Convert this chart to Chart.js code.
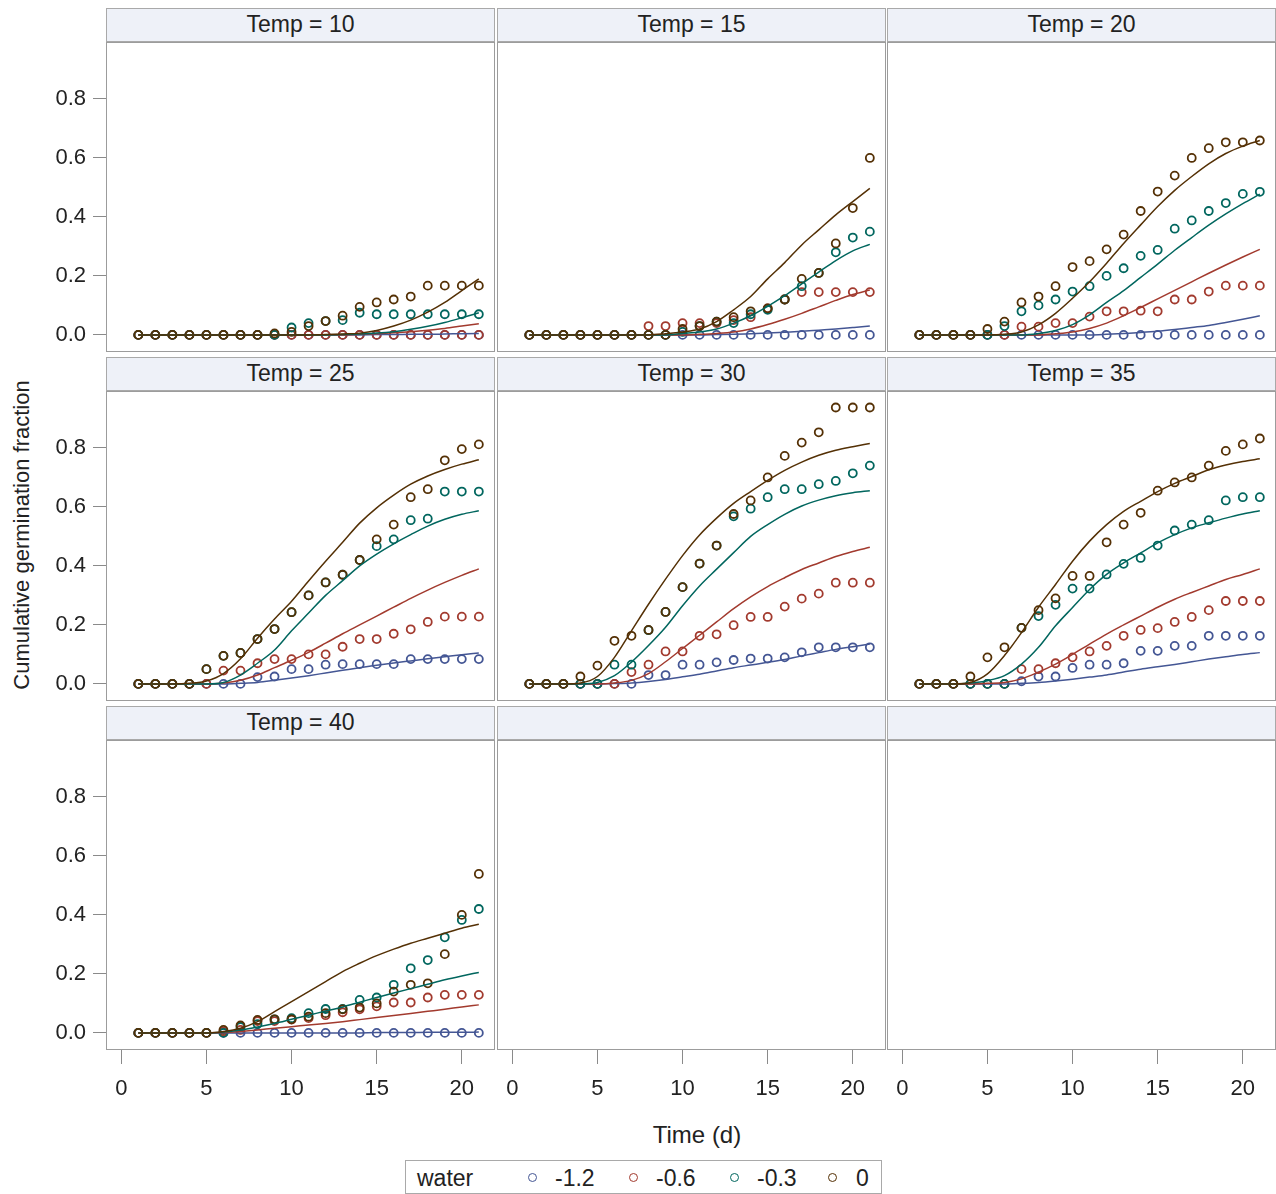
<!DOCTYPE html>
<html>
<head>
<meta charset="utf-8">
<script src="https://cdn.jsdelivr.net/npm/chart.js@4.4.1/dist/chart.umd.min.js"></script>
<style>
  body { margin: 0; background: #fff; font-family: "Liberation Sans", Arial, sans-serif; color: #222; }
  #page { position: relative; width: 1276px; height: 1194px; overflow: hidden; background: #fff; }
  .strip { position: absolute; box-sizing: border-box; background: #eef1f8; border: 1px solid #a9a9a9; text-align: center; font-size: 23px; line-height: 31px; color: #222; }
  .frame { position: absolute; box-sizing: border-box; border: 1px solid #9c9c9c; pointer-events: none; }
  canvas { position: absolute; }
  .label { position: absolute; white-space: nowrap; color: #222; }
  #ytitle { left: -228px; top: 522px; width: 500px; text-align: center; font-size: 22px; transform: rotate(-90deg); }
  #xtitle { left: 597px; top: 1121px; width: 200px; text-align: center; font-size: 24px; }
  #legend { position: absolute; left: 405px; top: 1160px; width: 477px; height: 34px; box-sizing: border-box; border: 1px solid #a9a9a9; font-size: 23px; }
  #legend .label { top: 4px; }
  .mark { position: absolute; top: 12px; width: 9px; height: 9px; box-sizing: border-box; border: 1.5px solid; border-radius: 50%; }
</style>
</head>
<body>
<div id="page">
  <div id="ytitle" class="label">Cumulative germination fraction</div>
  <div id="xtitle" class="label">Time (d)</div>
  <div id="legend"></div>
</div>
<script>
// days of observation and axis ticks
const DAYS = [1,2,3,4,5,6,7,8,9,10,11,12,13,14,15,16,17,18,19,20,21]
const X_TICKS = [0,5,10,15,20]
const Y_TICKS = [0,0.2,0.4,0.6,0.8]
const WATER = ['-1.2','-0.6','-0.3','0']
const WATER_COLORS = ['#445694','#A23A2E','#01665E','#543005']
const TEMPS = [10,15,20,25,30,35,40]

// observed fractions, rows = water -1.2, -0.6, -0.3, 0
const OBS_T10 = [
    [0,0,0,0,0,0,0,0,0,0,0,0,0,0,0,0,0,0,0,0,0],
    [0,0,0,0,0,0,0,0,0,0,0,0,0,0,0,0,0,0,0,0,0],
    [0,0,0,0,0,0,0,0,0,0.025,0.04,0.047,0.05,0.075,0.07,0.07,0.07,0.07,0.07,0.07,0.07],
    [0,0,0,0,0,0,0,0,0.005,0.01,0.03,0.047,0.065,0.095,0.11,0.12,0.13,0.167,0.167,0.167,0.167]
]
const OBS_T15 = [
    [0,0,0,0,0,0,0,0,0,0,0,0,0,0,0,0,0,0,0,0,0],
    [0,0,0,0,0,0,0,0.03,0.03,0.04,0.04,0.04,0.05,0.06,0.09,0.12,0.145,0.145,0.145,0.145,0.145],
    [0,0,0,0,0,0,0,0,0,0.01,0.03,0.045,0.04,0.07,0.085,0.12,0.165,0.21,0.28,0.33,0.35],
    [0,0,0,0,0,0,0,0,0,0.02,0.03,0.045,0.06,0.08,0.09,0.12,0.19,0.21,0.31,0.43,0.60]
]
const OBS_T20 = [
    [0,0,0,0,0,0,0,0,0,0,0,0,0,0,0,0,0,0,0,0,0],
    [0,0,0,0,0,0,0.028,0.028,0.04,0.04,0.062,0.08,0.08,0.082,0.08,0.12,0.12,0.147,0.167,0.167,0.167],
    [0,0,0,0,0,0.03,0.08,0.10,0.12,0.147,0.165,0.20,0.226,0.268,0.288,0.36,0.388,0.42,0.447,0.478,0.485],
    [0,0,0,0,0.02,0.045,0.11,0.13,0.165,0.23,0.25,0.29,0.34,0.42,0.486,0.54,0.60,0.633,0.653,0.653,0.659]
]
const OBS_T25 = [
    [0,0,0,0,0,0,0,0.023,0.025,0.05,0.05,0.065,0.067,0.067,0.067,0.067,0.084,0.084,0.084,0.084,0.084],
    [0,0,0,0,0,0.045,0.045,0.07,0.084,0.084,0.10,0.10,0.126,0.152,0.152,0.17,0.185,0.21,0.228,0.228,0.228],
    [0,0,0,0,0.05,0.095,0.105,0.152,0.186,0.243,0.30,0.344,0.37,0.42,0.467,0.49,0.555,0.56,0.652,0.652,0.652],
    [0,0,0,0,0.05,0.095,0.105,0.152,0.186,0.243,0.30,0.344,0.37,0.42,0.49,0.54,0.633,0.66,0.758,0.796,0.812]
]
const OBS_T30 = [
    [0,0,0,0,0,0,0,0.03,0.03,0.065,0.065,0.073,0.081,0.086,0.086,0.09,0.107,0.124,0.124,0.124,0.124],
    [0,0,0,0,0,0,0.04,0.065,0.11,0.11,0.163,0.168,0.199,0.227,0.227,0.262,0.289,0.306,0.343,0.343,0.343],
    [0,0,0,0,0,0.065,0.065,0.182,0.244,0.328,0.408,0.469,0.568,0.594,0.633,0.66,0.66,0.677,0.688,0.714,0.74],
    [0,0,0,0.025,0.062,0.146,0.163,0.183,0.244,0.328,0.408,0.469,0.576,0.622,0.70,0.773,0.818,0.853,0.937,0.937,0.937]
]
const OBS_T35 = [
    [0,0,0,0,0,0,0.009,0.025,0.025,0.054,0.065,0.065,0.07,0.112,0.112,0.129,0.129,0.163,0.163,0.163,0.163],
    [0,0,0,0,0,0,0.05,0.05,0.07,0.09,0.11,0.129,0.163,0.183,0.189,0.21,0.227,0.25,0.281,0.281,0.281],
    [0,0,0,0,0,0,0.19,0.23,0.268,0.323,0.323,0.371,0.407,0.427,0.469,0.52,0.54,0.555,0.622,0.633,0.633],
    [0,0,0,0.025,0.09,0.124,0.19,0.25,0.29,0.366,0.366,0.48,0.54,0.58,0.655,0.683,0.70,0.74,0.79,0.812,0.832]
]
const OBS_T40 = [
    [0,0,0,0,0,0,0,0,0,0,0,0,0,0,0,0,0,0,0,0,0],
    [0,0,0,0,0,0.005,0.01,0.04,0.04,0.045,0.05,0.06,0.07,0.08,0.09,0.103,0.103,0.12,0.129,0.129,0.129],
    [0,0,0,0,0,0,0.02,0.03,0.046,0.05,0.067,0.081,0.081,0.112,0.12,0.163,0.219,0.247,0.324,0.383,0.42],
    [0,0,0,0,0,0.01,0.025,0.044,0.046,0.046,0.055,0.067,0.08,0.086,0.10,0.14,0.163,0.168,0.267,0.40,0.539]
]

// fitted curves at each day, same row order
const FIT_T10 = [
    [0,0,0,0,0,0,0,0,0,0,0,0,0,0,0.001,0.001,0.002,0.002,0.003,0.004,0.005],
    [0,0,0,0,0,0,0,0,0,0,0,0,0,0.002,0.004,0.007,0.011,0.016,0.022,0.03,0.038],
    [0,0,0,0,0,0,0,0,0,0,0,0,0.001,0.003,0.006,0.011,0.019,0.029,0.042,0.058,0.075],
    [0,0,0,0,0,0,0,0,0,0,0,0.001,0.003,0.006,0.015,0.03,0.05,0.077,0.11,0.15,0.19]
]
const FIT_T15 = [
    [0,0,0,0,0,0,0,0,0,0,0,0.001,0.002,0.004,0.006,0.009,0.012,0.016,0.02,0.025,0.03],
    [0,0,0,0,0,0,0,0,0,0,0.002,0.005,0.01,0.02,0.035,0.053,0.073,0.095,0.117,0.137,0.152],
    [0,0,0,0,0,0,0,0,0,0.005,0.01,0.02,0.04,0.065,0.097,0.133,0.173,0.213,0.252,0.285,0.307],
    [0,0,0,0,0,0,0,0,0.004,0.01,0.02,0.045,0.085,0.13,0.19,0.245,0.305,0.356,0.407,0.452,0.497]
]
const FIT_T20 = [
    [0,0,0,0,0,0,0,0,0,0,0,0.002,0.005,0.008,0.012,0.018,0.025,0.032,0.042,0.053,0.065],
    [0,0,0,0,0,0,0,0,0.004,0.01,0.022,0.04,0.065,0.093,0.122,0.151,0.18,0.209,0.237,0.264,0.29],
    [0,0,0,0,0,0,0,0.005,0.015,0.035,0.068,0.11,0.15,0.195,0.24,0.287,0.33,0.372,0.41,0.445,0.477],
    [0,0,0,0,0,0.002,0.01,0.034,0.073,0.124,0.18,0.243,0.31,0.373,0.435,0.49,0.537,0.58,0.615,0.64,0.659]
]
const FIT_T25 = [
    [0,0,0,0,0,0,0.002,0.005,0.012,0.02,0.028,0.037,0.046,0.055,0.063,0.071,0.078,0.085,0.092,0.099,0.105],
    [0,0,0,0,0,0.003,0.012,0.03,0.055,0.08,0.107,0.138,0.17,0.2,0.23,0.26,0.29,0.318,0.344,0.368,0.39],
    [0,0,0,0,0,0.005,0.03,0.07,0.115,0.18,0.24,0.30,0.35,0.40,0.44,0.475,0.506,0.535,0.558,0.575,0.587],
    [0,0,0,0.002,0.01,0.035,0.085,0.155,0.22,0.28,0.349,0.416,0.48,0.545,0.597,0.64,0.677,0.705,0.727,0.745,0.76]
]
const FIT_T30 = [
    [0,0,0,0,0,0.001,0.003,0.008,0.015,0.024,0.033,0.044,0.055,0.064,0.073,0.083,0.095,0.106,0.117,0.126,0.135],
    [0,0,0,0,0,0.003,0.012,0.035,0.075,0.12,0.165,0.21,0.255,0.295,0.33,0.36,0.388,0.41,0.432,0.449,0.463],
    [0,0,0,0,0.005,0.028,0.074,0.13,0.192,0.265,0.332,0.389,0.445,0.5,0.54,0.575,0.603,0.623,0.638,0.648,0.655],
    [0,0,0,0.003,0.025,0.09,0.18,0.27,0.355,0.435,0.505,0.562,0.612,0.652,0.69,0.724,0.752,0.775,0.792,0.804,0.815]
]
const FIT_T35 = [
    [0,0,0,0,0,0,0.002,0.005,0.01,0.016,0.023,0.03,0.04,0.05,0.058,0.066,0.075,0.084,0.092,0.1,0.106],
    [0,0,0,0,0.002,0.005,0.017,0.04,0.067,0.1,0.135,0.169,0.2,0.23,0.26,0.287,0.31,0.332,0.354,0.371,0.39],
    [0,0,0,0.003,0.011,0.028,0.067,0.124,0.197,0.259,0.32,0.371,0.41,0.444,0.478,0.506,0.529,0.546,0.562,0.576,0.587],
    [0,0,0,0.005,0.034,0.096,0.174,0.26,0.337,0.416,0.484,0.54,0.585,0.619,0.652,0.68,0.703,0.726,0.742,0.754,0.763]
]
const FIT_T40 = [
    [0,0,0,0,0,0,0,0,0,0,0,0,0,0,0.001,0.001,0.001,0.002,0.002,0.002,0.003],
    [0,0,0,0,0,0.001,0.005,0.01,0.016,0.021,0.027,0.032,0.038,0.045,0.052,0.059,0.066,0.073,0.08,0.088,0.095],
    [0,0,0,0,0,0.003,0.01,0.02,0.032,0.046,0.06,0.074,0.088,0.104,0.12,0.135,0.15,0.165,0.18,0.193,0.205],
    [0,0,0,0,0,0.005,0.016,0.038,0.072,0.106,0.14,0.174,0.208,0.236,0.262,0.284,0.304,0.321,0.338,0.355,0.368]
]

const OBS = [OBS_T10, OBS_T15, OBS_T20, OBS_T25, OBS_T30, OBS_T35, OBS_T40]
const FIT = [FIT_T10, FIT_T15, FIT_T20, FIT_T25, FIT_T30, FIT_T35, FIT_T40]

// panel layout in page pixels
const COL_LEFT = [106, 497, 887]
const STRIP_TOP = [8, 357, 706]
const ROW_TOP = [42, 391, 740]
const PANEL_W = 389
const PANEL_H = 310
const STRIP_H = 34
const Y_AXIS_W = 106
const X_AXIS_H = 62
const X_MIN = -0.9, X_MAX = 21.95
const Y_MIN = -0.058, Y_MAX = 0.993
const TICK_FONT = {family: '"Liberation Sans", Arial, sans-serif', size: 22}

const page = document.getElementById('page')

let addDiv = function (cls, left, top, w, h, text) {
    let d = document.createElement('div')
    d.className = cls
    d.style.left = left + 'px'
    d.style.top = top + 'px'
    d.style.width = w + 'px'
    d.style.height = h + 'px'
    if (text) d.textContent = text
    page.appendChild(d)
    return d
}

let fixedTicks = function (values) {
    return function (scale) { scale.ticks = values.map(v => ({value: v})) }
}

// keep every panel's plot area at a fixed size: fixed axis thickness, no label overhang padding
let fixedFit = function (size, horizontal) {
    return function (scale) {
        if (horizontal) scale.height = size
        else scale.width = size
        scale.paddingTop = 0
        scale.paddingBottom = 0
        scale.paddingLeft = 0
        scale.paddingRight = 0
    }
}

let buildPanel = function (slot, temp, obs, fit) {
    let col = slot % 3
    let row = Math.floor(slot / 3)
    let showY = col === 0
    let showX = row === 2
    let plotLeft = COL_LEFT[col]
    let plotTop = ROW_TOP[row]
    let w = PANEL_W + (showY ? Y_AXIS_W : 0)
    let h = PANEL_H + (showX ? X_AXIS_H : 0)

    addDiv('strip', plotLeft, STRIP_TOP[row], PANEL_W, STRIP_H, temp === null ? '' : 'Temp = ' + temp)

    let canvas = document.createElement('canvas')
    canvas.width = w
    canvas.height = h
    canvas.style.left = (showY ? plotLeft - Y_AXIS_W : plotLeft) + 'px'
    canvas.style.top = plotTop + 'px'
    canvas.style.width = w + 'px'
    canvas.style.height = h + 'px'
    page.appendChild(canvas)
    addDiv('frame', plotLeft, plotTop, PANEL_W, PANEL_H)

    let datasets = []
    if (obs) {
        WATER.forEach((wl, i) => {
            datasets.push({
                label: wl,
                data: DAYS.map((d, j) => ({x: d, y: obs[i][j]})),
                showLine: false,
                pointStyle: 'circle',
                pointRadius: 4,
                pointBorderWidth: 1.8,
                pointBackgroundColor: 'rgba(0,0,0,0)',
                pointBorderColor: WATER_COLORS[i],
                order: 10 - i
            })
            datasets.push({
                label: 'fit ' + wl,
                data: DAYS.map((d, j) => ({x: d, y: fit[i][j]})),
                showLine: true,
                pointRadius: 0,
                borderColor: WATER_COLORS[i],
                borderWidth: 1.5,
                cubicInterpolationMode: 'monotone',
                fill: false,
                order: 5 - i
            })
        })
    }

    new Chart(canvas, {
        type: 'scatter',
        data: {datasets: datasets},
        options: {
            responsive: false,
            animation: false,
            events: [],
            layout: {padding: 0, autoPadding: false},
            plugins: {legend: {display: false}, tooltip: {enabled: false}},
            scales: {
                x: {
                    type: 'linear', min: X_MIN, max: X_MAX, display: showX,
                    afterBuildTicks: fixedTicks(X_TICKS),
                    afterFit: fixedFit(showX ? X_AXIS_H : 0, true),
                    ticks: {font: TICK_FONT, color: '#222', padding: 12, maxRotation: 0, autoSkip: false},
                    grid: {drawOnChartArea: false, drawTicks: true, tickLength: 14, color: '#8a8a8a'},
                    border: {display: false}
                },
                y: {
                    type: 'linear', min: Y_MIN, max: Y_MAX, display: showY,
                    afterBuildTicks: fixedTicks(Y_TICKS),
                    afterFit: fixedFit(showY ? Y_AXIS_W : 0, false),
                    ticks: {font: TICK_FONT, color: '#222', padding: 7, callback: v => v.toFixed(1)},
                    grid: {drawOnChartArea: false, drawTicks: true, tickLength: 13, color: '#8a8a8a'},
                    border: {display: false}
                }
            }
        }
    })
}

for (let s = 0; s < 9; s++) {
    if (s < TEMPS.length) buildPanel(s, TEMPS[s], OBS[s], FIT[s])
    else buildPanel(s, null, null, null)
}

// legend
let legend = document.getElementById('legend')
let addLegendText = function (text, left) {
    let t = document.createElement('div')
    t.className = 'label'
    t.style.left = left + 'px'
    t.textContent = text
    legend.appendChild(t)
}
addLegendText('water', 11)
const LEGEND_MARK_X = [122, 223, 324, 422]
const LEGEND_TEXT_X = [149, 250, 351, 450]
WATER.forEach((wl, i) => {
    let m = document.createElement('div')
    m.className = 'mark'
    m.style.left = LEGEND_MARK_X[i] + 'px'
    m.style.borderColor = WATER_COLORS[i]
    legend.appendChild(m)
    addLegendText(wl, LEGEND_TEXT_X[i])
})
</script>
</body>
</html>
